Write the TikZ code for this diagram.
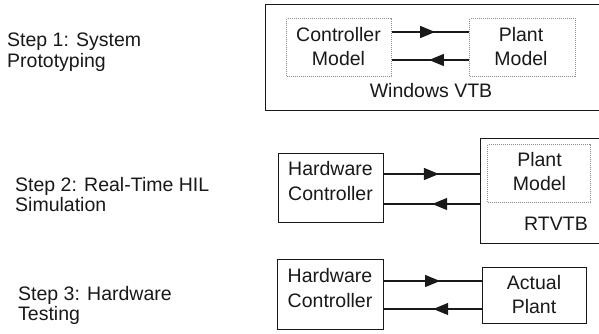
\documentclass[tikz,border=0pt]{standalone}
\usepackage{fontspec}
\setmainfont{Liberation Sans}
\usetikzlibrary{arrows.meta,decorations.markings}
\begin{document}
\begin{tikzpicture}[x=1pt,y=-1pt,
  frame/.style={draw=black!90, line width=1.4pt, inner sep=0pt, anchor=north west, fill=none},
  dotbox/.style={draw=black!45, densely dotted, line width=1pt, inner sep=0pt, anchor=north west},
  boxtext/.style={inner sep=0pt, align=center, text=black!90, font=\fontsize{19.5}{24.5}\selectfont},
  steptext/.style={inner sep=0pt, align=left, anchor=north west, text=black!90, font=\fontsize{19.5}{20.5}\selectfont},
  fwd/.style={draw=black!90, line width=1.3pt, postaction={decorate},
    decoration={markings, mark=at position #1 with {\arrow{Triangle[length=15pt,width=12pt]}}}},
]
\clip (0,0) rectangle (599,333);
\fill[white] (0,0) rectangle (599,333);

% Step labels
\node[steptext] (s1) at (7,33) {Step 1: System\\Prototyping};
\node[steptext] (s2) at (15,177) {Step 2: Real-Time HIL\\Simulation};
\node[steptext] (s3) at (18,286) {Step 3: Hardware\\Testing};

% Step 1
\node[frame, minimum width=345pt, minimum height=106pt] (win) at (265,4) {};
\node[dotbox, minimum width=105pt, minimum height=58pt] (cm) at (286,18) {};
\node[dotbox, minimum width=106pt, minimum height=58pt] (pm1) at (469,18) {};
\node[boxtext] (cmt) at (338.5,46.5) {Controller\\Model};
\node[boxtext] (pm1t) at (521,46.5) {Plant\\Model};
\node[boxtext, anchor=base] (wint) at (431,97) {Windows VTB};
\draw[fwd=0.56] (cm.east |- 0,32) -- (pm1.west |- 0,32);
\draw[fwd=0.52] (pm1.west |- 0,60) -- (cm.east |- 0,60);

% Step 2
\node[frame, minimum width=105pt, minimum height=69pt] (hc2) at (278,153) {};
\node[frame, minimum width=130pt, minimum height=105pt] (rt) at (480,138) {};
\node[dotbox, minimum width=103pt, minimum height=58pt] (pm2) at (487,144) {};
\node[boxtext] (hc2t) at (330.5,181) {Hardware\\Controller};
\node[boxtext] (pm2t) at (539.5,171.5) {Plant\\Model};
\node[boxtext, anchor=base] (rtt) at (556,230) {RTVTB};
\draw[fwd=0.57] (hc2.east |- 0,174) -- (rt.west |- 0,174);
\draw[fwd=0.50] (rt.west |- 0,204) -- (hc2.east |- 0,204);

% Step 3
\node[frame, minimum width=106pt, minimum height=70pt] (hc3) at (277,259) {};
\node[frame, minimum width=104pt, minimum height=56pt] (ap) at (482,267) {};
\node[boxtext] (hc3t) at (330,288) {Hardware\\Controller};
\node[boxtext] (apt) at (534,294.5) {Actual\\Plant};
\draw[fwd=0.57] (hc3.east |- 0,281) -- (ap.west |- 0,281);
\draw[fwd=0.50] (ap.west |- 0,309) -- (hc3.east |- 0,309);
\end{tikzpicture}
\end{document}
